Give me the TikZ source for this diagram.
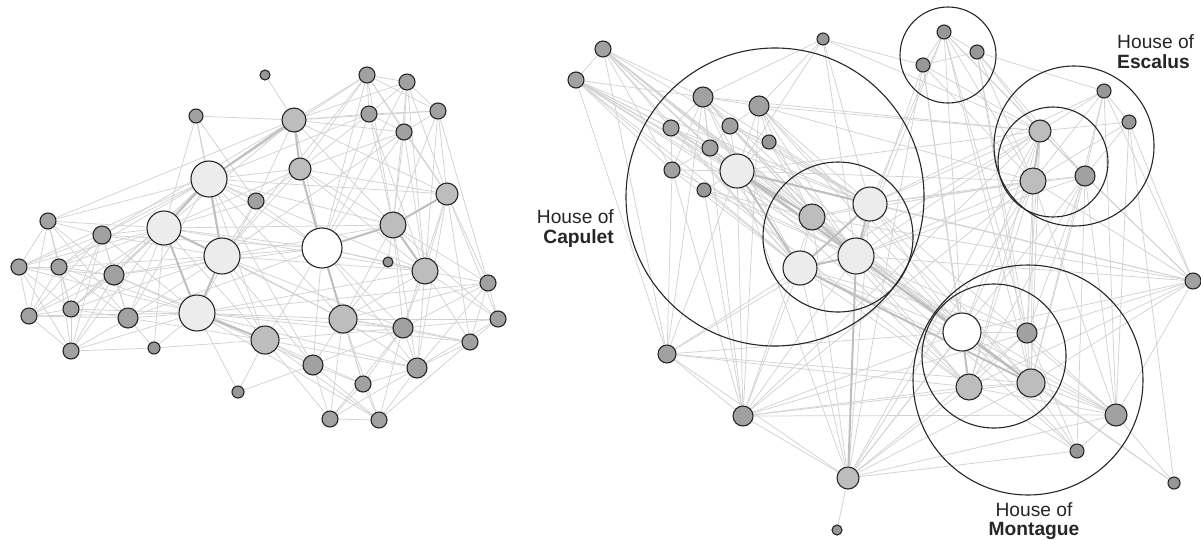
\documentclass[tikz,border=0pt]{standalone}
\usepackage{fontspec}
\setmainfont{Liberation Sans}
\pgfdeclarelayer{edges}
\pgfdeclarelayer{rings}
\pgfsetlayers{edges,rings,main}
\definecolor{edgec}{HTML}{D2D2D2}
\definecolor{edgeth}{HTML}{BEBEBE}
\definecolor{ndline}{HTML}{262626}
\definecolor{cs}{HTML}{A1A1A1}
\definecolor{ct}{HTML}{979797}
\definecolor{cm}{HTML}{BDBDBD}
\definecolor{cb}{HTML}{ECECEC}
\definecolor{cw}{HTML}{FFFFFF}
\tikzset{
  nd/.style={circle, draw=ndline, line width=1.1pt, inner sep=0pt},
  edge/.style={draw=edgec, line width=0.75pt},
  thick edge/.style={draw=edgeth, line width=2pt},
  ring/.style={draw=ndline, line width=1.1pt},
  lbl/.style={inner sep=0pt, font=\fontsize{19.2}{22}\selectfont, text=ndline}
}
\begin{document}
\begin{tikzpicture}[x=1pt,y=-1pt]
\useasboundingbox (0,0) rectangle (1201,539);
% ---------- left network nodes ----------
\foreach \n/\x/\y/\d/\c in {
 a1/196/116/14/cs, a2/265/75/10/ct, a3/367/75/16/cs, a4/407/82/16/cs,
 a5/294/120/24/cm, a6/369/114/16/cs, a7/438/111/16/cs, a8/404/132/16/cs,
 a9/209/179/36/cb, a10/300/169/22/cm, a11/256/201/16/cs, a12/447/194/22/cm,
 a13/48/221/16/cs, a14/102/235/18/cs, a15/164/228/34/cb, a16/393/225/26/cm,
 a17/322/248/40/cw, a18/19/267/16/cs, a19/59/267/16/cs, a20/222/256/36/cb,
 a21/388/262/10/ct, a22/425/271/26/cm, a23/114/275/20/cs, a24/488/283/16/cs,
 a25/29/316/16/cs, a26/71/309/16/cs, a27/128/318/20/cs, a28/197/313/36/cb,
 a29/343/319/28/cm, a30/403/328/20/cs, a31/498/319/16/cs, a32/470/342/16/cs,
 a33/265/340/28/cm, a34/71/351/16/cs, a35/154/348/12/ct, a36/313/365/20/cs,
 a37/417/368/20/cs, a38/363/384/16/cs, a39/238/392/12/ct, a40/330/419/16/cs,
 a41/379/420/16/cs}
  \node[nd, minimum size=\d pt, fill=\c] (\n) at (\x,\y) {};
% ---------- right network nodes ----------
\foreach \n/\x/\y/\d/\c in {
 b1/603/49/16/cs, b2/576/80/16/cs, b3/823/39/12/ct, b4/703/97/20/cs,
 b5/759/106/20/cs, b6/671/128/16/cs, b7/730/126/16/cs, b8/710/148/16/cs,
 b9/769/142/14/ct, b10/672/170/16/cs, b11/737/171/34/cb, b12/704/190/14/ct,
 b13/812/217/26/cm, b14/870/204/34/cb, b15/800/268/34/cb, b16/856/256/36/cb,
 b17/944/32/14/ct, b18/977/52/14/ct, b19/923/65/14/ct, b20/1104/91/14/ct,
 b21/1129/122/14/ct, b22/1040/131/22/cm, b23/1033/181/26/cm, b24/1085/176/20/cs,
 b25/1193/281/16/cs, b26/667/354/18/cs, b27/743/416/20/cs, b28/848/478/22/cm,
 b29/837/530/10/ct, b30/962/332/38/cw, b31/1027/333/20/cs, b32/969/387/26/cm,
 b33/1031/383/28/cm, b34/1116/415/22/cs, b35/1077/451/14/ct, b36/1174/483/12/ct}
  \node[nd, minimum size=\d pt, fill=\c] (\n) at (\x,\y) {};
% ---------- edges ----------
\begin{pgfonlayer}{edges}
\foreach \s/\ts in {
 a1/{a5,a9,a15,a11,a20},
 a2/{a5},
 a3/{a4,a6,a7,a8,a5,a10,a16,a12,a17,a20,a9},
 a4/{a6,a7,a8,a5,a16,a12,a22,a17},
 a5/{a6,a7,a8,a10,a12,a16,a11,a13,a14,a15,a17},
 a6/{a7,a8,a10,a16,a22,a17,a9},
 a7/{a8,a12,a16,a24,a22},
 a8/{a10,a16,a12,a22,a20,a17},
 a9/{a10,a11,a13,a14,a18,a19,a23,a26,a27,a16,a17,a22,a29,a33,a12,a36},
 a10/{a16,a12,a11,a29,a22,a20},
 a11/{a15,a17,a20,a28},
 a12/{a22,a24,a31,a32,a30,a37,a16},
 a13/{a14,a18,a19,a23,a25,a26,a27,a15},
 a14/{a18,a19,a23,a25,a26,a27,a34,a15,a20,a28,a17},
 a15/{a18,a19,a23,a25,a26,a27,a34,a17,a16,a29,a33,a35,a10,a22},
 a16/{a21,a22,a29,a30,a37,a24,a31,a20},
 a17/{a21,a22,a29,a30,a33,a36,a37,a38,a23,a27,a20},
 a18/{a19,a25,a26,a34,a23,a28},
 a19/{a23,a25,a26,a27,a34,a20,a28},
 a20/{a23,a26,a27,a29,a33,a36,a22,a30},
 a21/{a22,a29},
 a22/{a24,a31,a32,a30,a37,a29},
 a23/{a25,a26,a27,a34,a28,a33},
 a24/{a31,a32,a30,a37,a29},
 a25/{a26,a34,a27,a28},
 a26/{a34,a27,a28},
 a27/{a34,a35,a28,a33},
 a28/{a34,a35,a39,a36,a29,a30,a37,a22,a24,a32,a41},
 a29/{a30,a36,a37,a38,a40,a41,a31,a32},
 a30/{a36,a37,a38,a40,a41,a31,a32},
 a31/{a32,a37},
 a32/{a37,a41},
 a33/{a35,a36,a38,a39,a40,a41,a30,a37},
 a34/{a35},
 a36/{a38,a40,a41,a39},
 a37/{a38,a40,a41},
 a38/{a40,a41},
 a40/{a41}}
  \foreach \t in \ts \draw[edge] (\s) -- (\t);
\foreach \s/\ts in {
 b1/{b2,b4,b6,b8,b10,b11,b13,b15,b16,b30,b33,b14,b26},
 b2/{b4,b6,b8,b10,b11,b13,b15,b16,b26,b30,b32,b14},
 b3/{b4,b5,b11,b14,b22,b19,b16},
 b4/{b5,b6,b7,b8,b10,b11,b13,b14,b15,b16,b26,b27,b30,b22},
 b5/{b7,b9,b11,b13,b14,b16,b22,b23,b30,b33,b27},
 b6/{b8,b10,b11,b13,b15,b16,b14},
 b7/{b8,b9,b11,b13,b14,b16},
 b8/{b10,b11,b13,b15,b16},
 b9/{b11,b13,b14,b16},
 b10/{b11,b15,b16,b26,b27},
 b11/{b12,b26,b27,b28,b30,b32,b33,b22,b23},
 b12/{b13,b15,b16,b27},
 b13/{b14,b15,b27,b28,b30,b32,b33,b23},
 b14/{b22,b23,b24,b30,b33,b34,b28,b20,b25},
 b15/{b26,b27,b28,b30,b32,b31,b34},
 b16/{b22,b23,b24,b31,b32,b34,b35,b25,b27},
 b17/{b18,b19,b22,b23,b24,b30,b31,b33,b14,b16},
 b18/{b19,b22,b23,b24,b31,b33,b20},
 b19/{b22,b23,b30,b32,b28,b16},
 b20/{b21,b22,b23,b24,b25,b33,b34},
 b21/{b22,b23,b24,b25,b34,b36},
 b22/{b24,b28,b30,b31,b32,b33,b25,b27,b26},
 b23/{b24,b28,b30,b31,b32,b33,b34,b25,b27},
 b24/{b25,b28,b31,b32,b33,b34,b35},
 b25/{b30,b31,b32,b33,b34,b13,b11},
 b26/{b27,b28,b30,b32,b33},
 b27/{b28,b30,b32,b33,b34,b31},
 b28/{b29,b30,b31,b32,b33,b34,b35},
 b30/{b31,b34,b35,b36},
 b31/{b32,b33,b34,b35},
 b32/{b33,b34,b35},
 b33/{b34,b35,b36},
 b34/{b35,b36}}
  \foreach \t in \ts \draw[edge] (\s) -- (\t);
\foreach \s/\t in {a9/a15,a15/a28,a9/a20,a20/a28,a9/a5,a5/a10,a10/a17,
  a17/a29,a28/a33,a15/a20,a16/a12,a17/a16,a22/a16,
  b11/b15,b11/b16,b11/b13,b13/b16,b15/b16,b14/b16,b14/b15,b16/b30,
  b16/b33,b15/b33,b30/b32,b30/b33,b22/b23,b28/b16,b11/b14}
  \draw[thick edge] (\s) -- (\t);
\end{pgfonlayer}
% ---------- house rings ----------
\begin{pgfonlayer}{rings}
\draw[ring] (775,197) circle[radius=149];
\draw[ring] (838,237) circle[radius=75];
\draw[ring] (948,55) circle[radius=48];
\draw[ring] (1074,146) circle[radius=80];
\draw[ring] (1053,162) circle[radius=55];
\draw[ring] (1028,380) circle[radius=115];
\draw[ring] (994,356) circle[radius=72];
\end{pgfonlayer}
% ---------- labels ----------
\node[lbl, anchor=base east] (capA) at (614,223) {House of};
\node[lbl, anchor=base east] (capB) at (614,243) {\bfseries Capulet};
\node[lbl, anchor=base west] (escA) at (1117,48) {House of};
\node[lbl, anchor=base west] (escB) at (1117,68) {\bfseries Escalus};
\node[lbl, anchor=base] (monA) at (1034,516) {House of};
\node[lbl, anchor=base] (monB) at (1034,535) {\bfseries Montague};
\end{tikzpicture}
\end{document}
